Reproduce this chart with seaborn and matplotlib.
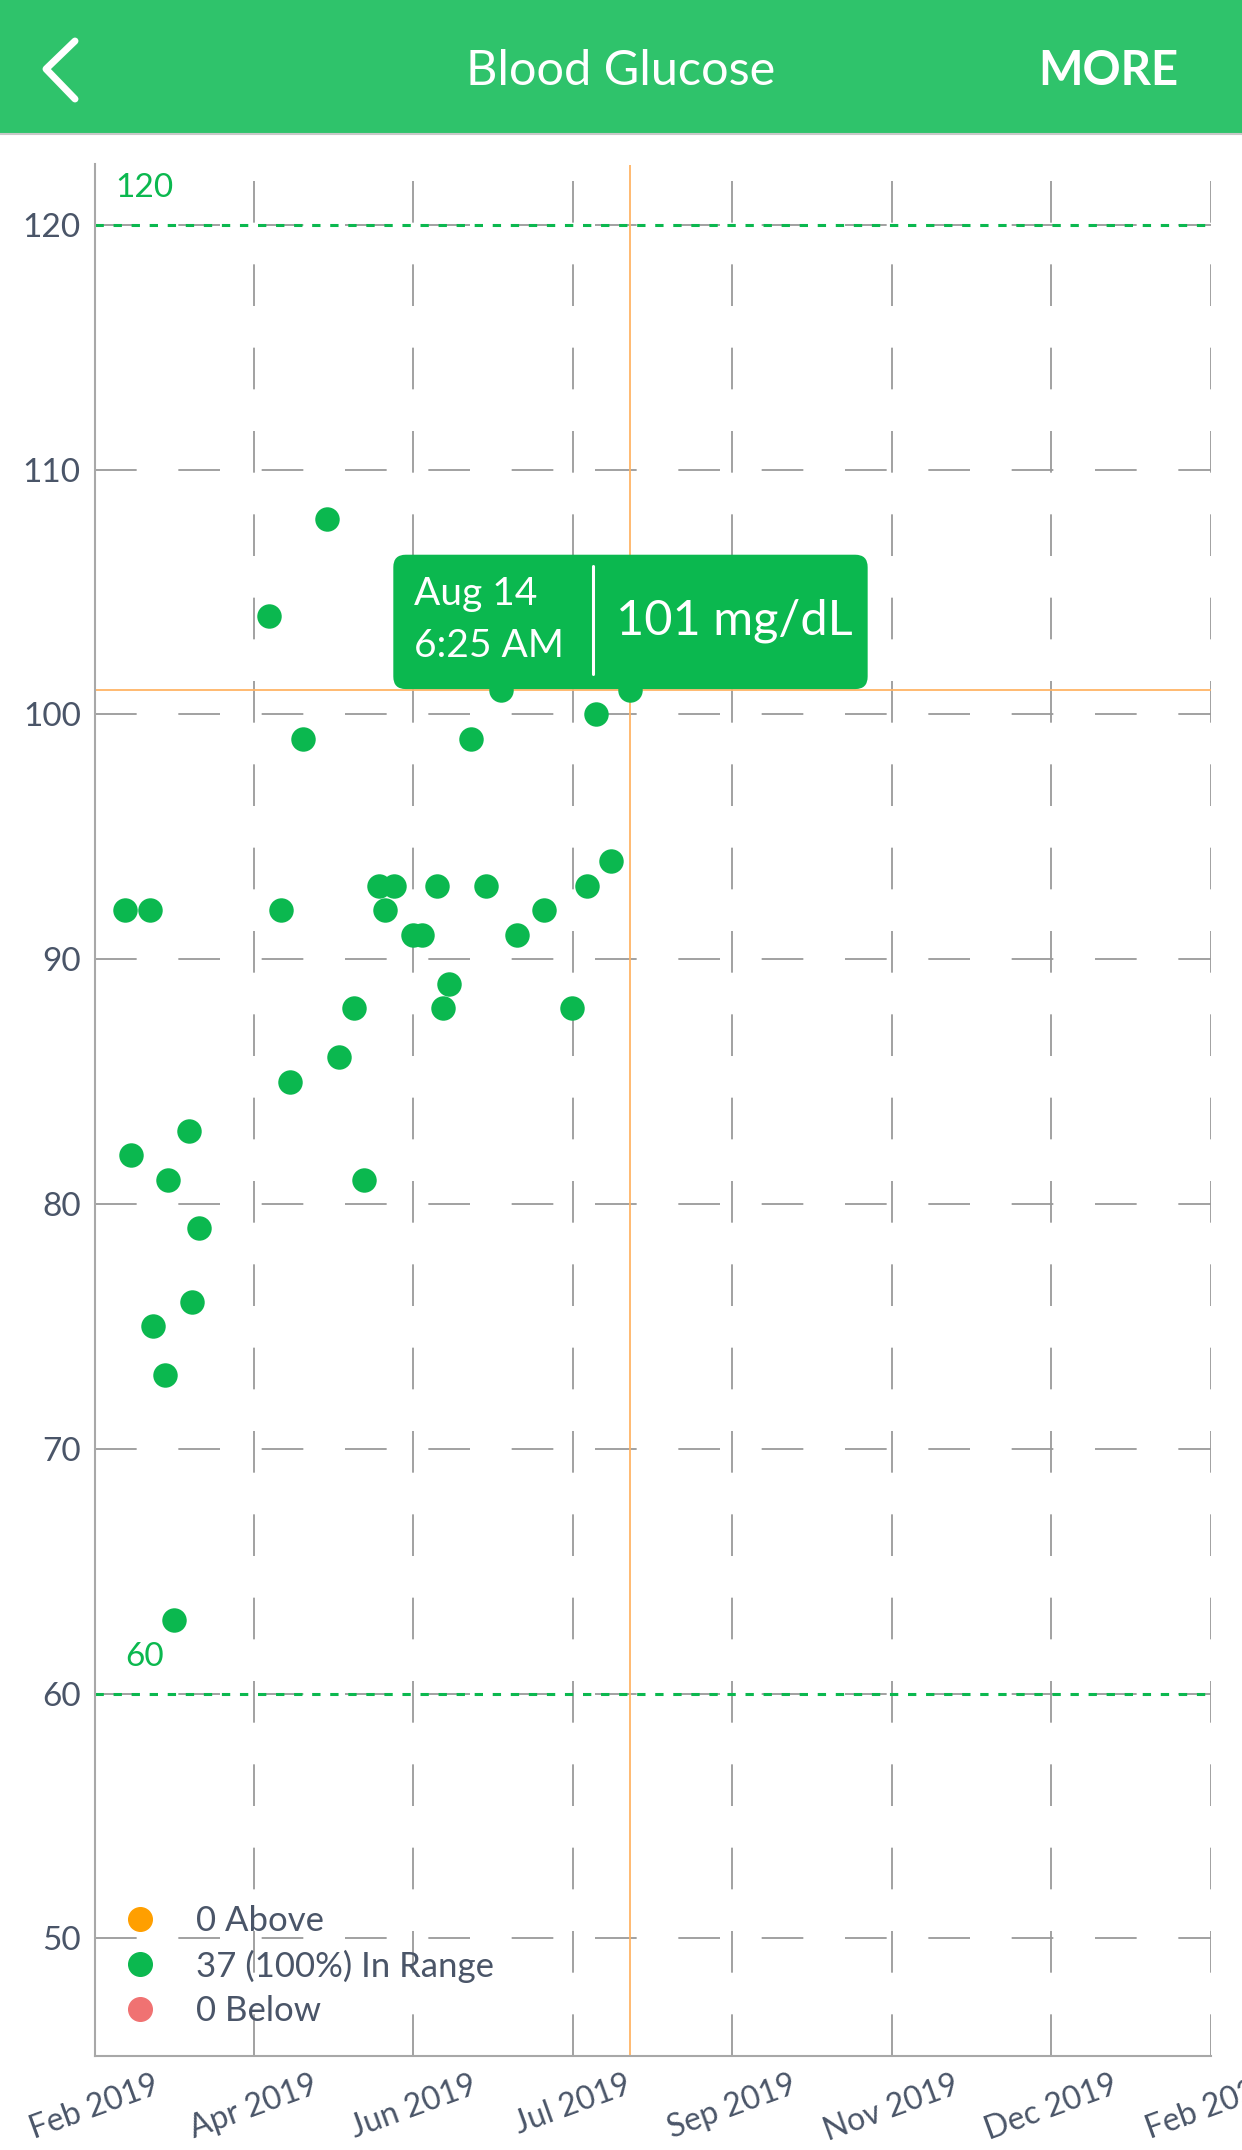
import matplotlib
matplotlib.use('Agg')
import matplotlib.pyplot as plt
import matplotlib.dates as mdates
from matplotlib.patches import Rectangle, FancyBboxPatch
from matplotlib.lines import Line2D
import seaborn as sns
import pandas as pd

sns.set_theme(style='white')
plt.rcParams['font.family'] = ['Lato', 'DejaVu Sans']
plt.rcParams['lines.scale_dashes'] = False

# readings (date, mg/dL)
dates = ['2019-03-02', '2019-03-10', '2019-03-04', '2019-03-11', '2019-03-15', '2019-03-16',
         '2019-03-18', '2019-03-23', '2019-03-24', '2019-03-26', '2019-04-18', '2019-04-22',
         '2019-04-25', '2019-04-29', '2019-05-07', '2019-05-11', '2019-05-16', '2019-05-19',
         '2019-05-24', '2019-05-26', '2019-05-29', '2019-06-04', '2019-06-07', '2019-06-12',
         '2019-06-14', '2019-06-16', '2019-06-23', '2019-06-28', '2019-07-03', '2019-07-08',
         '2019-07-12', '2019-07-17', '2019-07-26', '2019-07-31', '2019-08-03', '2019-08-08',
         '2019-08-14 06:25']
values = [92, 92, 82, 75, 73, 81,
          63, 83, 76, 79, 104, 92,
          85, 99, 108, 86, 88, 81,
          93, 92, 93, 91, 91, 93,
          88, 89, 99, 93, 101, 91,
          104, 92, 88, 93, 100, 94,
          101]

x_start, x_end = '2019-02-20', '2020-02-20'
y_ticks = [50, 60, 70, 80, 90, 100, 110, 120]
range_low, range_high = 60, 120
selected_date, selected_value = '2019-08-14 06:25', 101
legend_labels = ['0 Above', '37 (100%) In Range', '0 Below']

GREEN = '#0BB84F'
HEADER = '#2FC36B'
TEXT = '#4A5568'
GRID = '#9A9A9A'
ORANGE_LINE = '#FFB466'
legend_colors = ['#FF9F00', GREEN, '#F07272']

df = pd.DataFrame({'date': pd.to_datetime(dates, format='mixed'), 'value': values})

W, H = 1242, 2150
fig = plt.figure(figsize=(W / 100, H / 100), dpi=100)
fig.patch.set_facecolor('white')

# header bar
fig.patches.append(Rectangle((0, 1 - 133 / H), 1, 133 / H, transform=fig.transFigure,
                             facecolor=HEADER, edgecolor='none', zorder=0))
fig.add_artist(Line2D([0, 1], [1 - 134 / H, 1 - 134 / H], transform=fig.transFigure,
                      color='#C8C8C8', lw=1.5))
fig.add_artist(Line2D([75 / W, 46 / W, 75 / W], [1 - 41 / H, 1 - 69 / H, 1 - 99 / H],
                      transform=fig.transFigure, color='white', lw=5,
                      solid_capstyle='round', solid_joinstyle='round'))
fig.text(621 / W, 1 - 71 / H, 'Blood Glucose', color='white', fontsize=35,
         ha='center', va='center')
fig.text(1108 / W, 1 - 71 / H, 'MORE', color='white', fontsize=34, fontweight='bold',
         ha='center', va='center')

ax = fig.add_axes([94.6 / W, 1 - 2056 / H, (1210.6 - 94.6) / W, (2056 - 164.5) / H])
ax.set_facecolor('white')

sns.scatterplot(data=df, x='date', y='value', color=GREEN, s=310, linewidth=0,
                ax=ax, legend=False, zorder=3)

ax.set_xlim(pd.Timestamp(x_start), pd.Timestamp(x_end))
ax.set_ylim(45.2, 122.46)
x_ticks = pd.date_range(x_start, x_end, periods=8)
ax.set_xticks(x_ticks)
ax.xaxis.set_major_formatter(mdates.DateFormatter('%b %Y'))
ax.set_yticks(y_ticks)
ax.set_xlabel('')
ax.set_ylabel('')

ax.grid(True, color=GRID, lw=1.3, linestyle=(0, (30, 30)), zorder=0)
for s in ['top', 'right']:
    ax.spines[s].set_visible(False)
for s in ['left', 'bottom']:
    ax.spines[s].set_color('#A8A8A8')
    ax.spines[s].set_linewidth(1.5)
ax.tick_params(axis='both', length=0, labelcolor=TEXT)
ax.tick_params(axis='y', pad=10, labelsize=24)
ax.tick_params(axis='x', pad=10, labelsize=23)
for lab in ax.get_xticklabels():
    lab.set_rotation(20)
    lab.set_ha('center')

# target range lines
for v in [range_high, range_low]:
    ax.axhline(v, color=GREEN, lw=2.2, linestyle=(0, (6, 7)), zorder=2)
    ax.text(0.045, v + 1.5, str(v), color=GREEN, fontsize=24,
            transform=ax.get_yaxis_transform(), ha='center', va='center')

# crosshair
sel_x = pd.Timestamp(selected_date)
ax.axvline(sel_x, color=ORANGE_LINE, lw=1.3, zorder=2)
ax.axhline(selected_value, color=ORANGE_LINE, lw=1.3, zorder=2)

# legend
handles = [Line2D([], [], marker='o', ls='', color=c, markersize=17) for c in legend_colors]
ax.legend(handles, legend_labels, loc='lower left', bbox_to_anchor=(0.025, 0.0155),
          frameon=False, fontsize=25, labelcolor=TEXT, handlelength=1.0,
          handletextpad=1.12, labelspacing=0.35, borderpad=0, borderaxespad=0)

# tooltip anchored on the selected reading
px, py = ax.transData.transform((mdates.date2num(sel_x), selected_value))
fx, fy = px / W, py / H
box = FancyBboxPatch((fx - 226 / W, fy + 12 / H), 452 / W, 112 / H,
                     boxstyle='round,pad=0.009,rounding_size=0.01',
                     transform=fig.transFigure, facecolor=GREEN, edgecolor='none',
                     zorder=10, mutation_aspect=W / H)
fig.patches.append(box)
fig.text(fx - 216 / W, fy + 96 / H, 'Aug 14', color='white', fontsize=28,
         ha='left', va='center', zorder=11)
fig.text(fx - 216 / W, fy + 44 / H, '6:25 AM', color='white', fontsize=28,
         ha='left', va='center', zorder=11)
fig.add_artist(Line2D([fx - 37 / W, fx - 37 / W], [fy + 16 / H, fy + 124 / H],
                      transform=fig.transFigure, color='white', lw=2.2, zorder=11))
fig.text(fx - 14 / W, fy + 69 / H, '101 mg/dL', color='white', fontsize=35,
         ha='left', va='center', zorder=11)

fig.savefig('out.png', dpi=100)
